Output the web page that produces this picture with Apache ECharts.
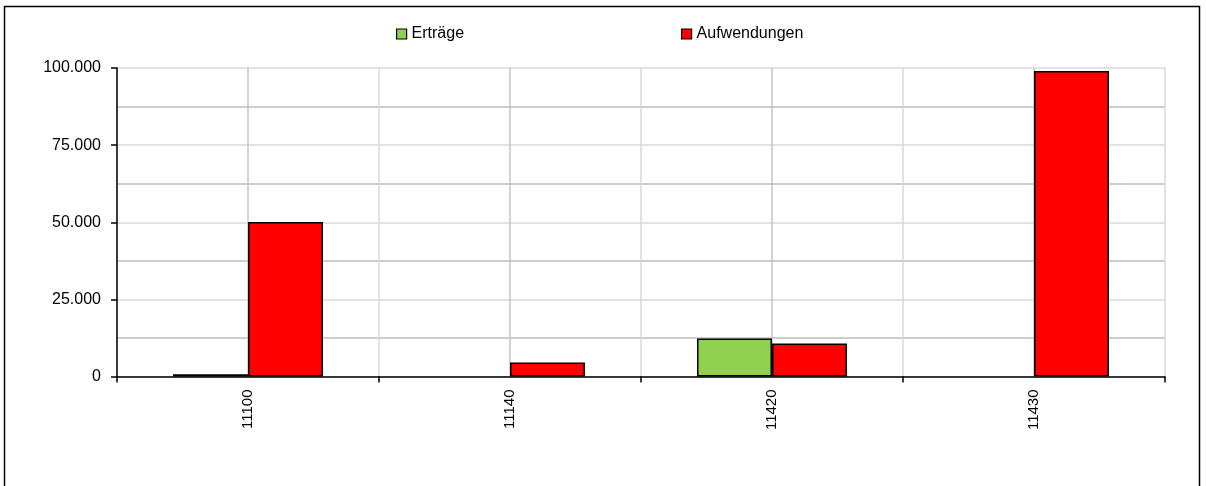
<!DOCTYPE html>
<html>
<head>
<meta charset="utf-8">
<script src="https://cdn.jsdelivr.net/npm/echarts@6/dist/echarts.min.js"></script>
<style>
  html, body { margin: 0; padding: 0; background: #fff; }
  #chart { width: 1206px; height: 486px; }
</style>
</head>
<body>
<div id="chart"></div>
<script>
var categories = ['11100', '11140', '11420', '11430'];
var ertraege = [700, 0, 12300, 0];
var aufwendungen = [50100, 4500, 10700, 99000];
var yTicks = [0, 25000, 50000, 75000, 100000];

function fmt(v) {
  return String(v).replace(/\B(?=(\d{3})+(?!\d))/g, '.');
}
// Excel draws nothing for zero values
function noZero(arr) {
  return arr.map(function (v) { return v === 0 ? '-' : v; });
}

var chart = echarts.init(document.getElementById('chart'));
var font = 'Liberation Sans, Arial, sans-serif';

chart.setOption({
  animation: false,
  backgroundColor: '#fff',
  textStyle: { fontFamily: font },
  graphic: [{
    type: 'rect',
    shape: { x: 4.5, y: 6.5, width: 1195, height: 500 },
    style: { fill: 'none', stroke: '#000', lineWidth: 1.5 },
    silent: true
  }],
  legend: [{
    data: ['Erträge'],
    left: 396, top: 26, padding: 0,
    itemWidth: 10, itemHeight: 10,
    icon: 'rect',
    itemStyle: { borderColor: '#000', borderWidth: 1.2 },
    textStyle: { fontFamily: font, fontSize: 16, color: '#000' }
  }, {
    data: ['Aufwendungen'],
    left: 681, top: 26, padding: 0,
    itemWidth: 10, itemHeight: 10,
    icon: 'rect',
    itemStyle: { borderColor: '#000', borderWidth: 1.2 },
    textStyle: { fontFamily: font, fontSize: 16, color: '#000' }
  }],
  grid: { left: 117, right: 41, top: 68, bottom: 109.5, containLabel: false },
  xAxis: [{
    type: 'category',
    data: categories,
    boundaryGap: true,
    axisLine: { lineStyle: { color: '#000', width: 1.5 } },
    axisTick: { show: true, length: 6, lineStyle: { color: '#000', width: 1.5 } },
    axisLabel: { rotate: 90, margin: 13, color: '#000', fontSize: 15, fontFamily: font },
    splitLine: { show: false }
  }, {
    type: 'value',
    min: 0, max: 8, interval: 1,
    show: true,
    axisLine: { show: false },
    axisTick: { show: false },
    axisLabel: { show: false },
    splitLine: { show: true, lineStyle: { color: ['#d9d9d9', '#c4c4c4'], width: 1.5 } }
  }],
  yAxis: {
    type: 'value',
    min: 0, max: 100000, interval: 25000,
    axisLine: { show: true, lineStyle: { color: '#000', width: 1.5 } },
    axisTick: { show: true, length: 6, lineStyle: { color: '#000', width: 1.5 } },
    axisLabel: { color: '#000', fontSize: 16, fontFamily: font, margin: 16,
      formatter: function (v) { return yTicks.indexOf(v) >= 0 ? fmt(v) : ''; } },
    splitLine: { show: true, lineStyle: { color: '#d9d9d9', width: 1.5 } },
    minorTick: { show: false, splitNumber: 2 },
    minorSplitLine: { show: true, lineStyle: { color: '#bdbdbd', width: 1.5 } }
  },
  series: [{
    name: 'Erträge',
    type: 'bar',
    data: noZero(ertraege),
    barWidth: 75,
    barGap: '0%',
    itemStyle: { color: '#92d050', borderColor: '#000', borderWidth: 1.5 }
  }, {
    name: 'Aufwendungen',
    type: 'bar',
    data: noZero(aufwendungen),
    barWidth: 75,
    barGap: '0%',
    itemStyle: { color: '#ff0000', borderColor: '#000', borderWidth: 1.5 }
  }]
});
</script>
</body>
</html>
